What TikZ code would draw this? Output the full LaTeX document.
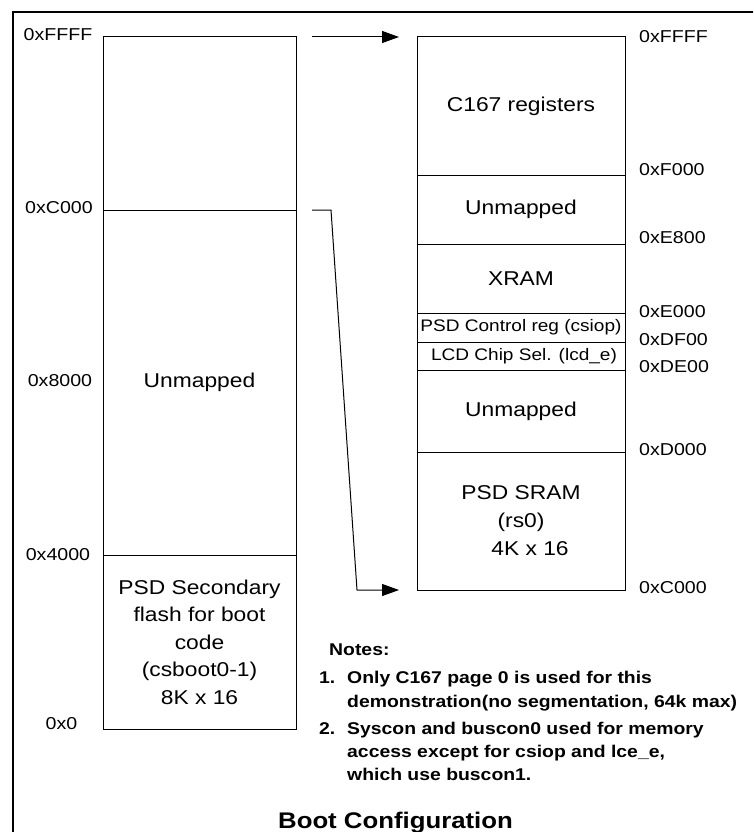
\documentclass[tikz,border=0pt]{standalone}
\usepackage{fontspec}
\setmainfont[FakeStretch=1.14]{Liberation Sans}
\usetikzlibrary{arrows.meta}
\begin{document}
\begin{tikzpicture}[x=1pt,y=-1pt,
  membox/.style={draw, line width=1pt, inner sep=0pt, outer sep=0pt, anchor=north west,
    align=center, font=\fontsize{20}{27.5}\selectfont},
  leftmem/.style={membox, minimum width=193pt},
  rightmem/.style={membox, minimum width=208pt},
  smalltext/.style={font=\fontsize{16.7}{20}\selectfont},
  addr/.style={inner sep=0pt, font=\fontsize{17.2}{20}\selectfont},
  raddr/.style={addr, anchor=west},
  note/.style={inner sep=0pt, anchor=base west, font=\bfseries\fontsize{17}{20}\selectfont},
  conn/.style={line width=1pt, -{Triangle[length=17pt,width=12pt]}},
  frame/.style={line width=2.2pt}]
\useasboundingbox (0,0) rectangle (753,832);
\clip (0,0) rectangle (753,832);
% outer frame (cut off at right and bottom)
\draw[frame] (13,850) -- (13,12) -- (770,12);

% left memory map
\node[leftmem, minimum height=173pt] (L1) at (103,37) {};
\node[leftmem, minimum height=345pt] (L2) at (103,210) {Unmapped};
\node[leftmem, minimum height=174pt] (L3) at (103,555) {PSD Secondary\\flash for boot\\code\\(csboot0-1)\\8K x 16};

% left addresses
\node[addr] (lFFFF) at (58,35) {0xFFFF};
\node[addr] (lC000) at (59,208) {0xC000};
\node[addr] (l8000) at (60,381) {0x8000};
\node[addr] (l4000) at (58,555) {0x4000};
\node[addr] (l0) at (61.5,724) {0x0};

% right memory map
\node[rightmem, minimum height=138pt] (R1) at (417,37) {C167 registers};
\node[rightmem, minimum height=69pt] (R2) at (417,175) {Unmapped};
\node[rightmem, minimum height=69pt] (R3) at (417,244) {XRAM};
\node[rightmem, minimum height=29pt, smalltext] (R4) at (417,313) {PSD Control reg (csiop)};
\node[rightmem, minimum height=28pt, smalltext] (R5) at (417,342) {\hspace*{6pt}LCD Chip Sel. (lcd\_e)};
\node[rightmem, minimum height=82pt] (R6) at (417,370) {Unmapped};
\node[rightmem, minimum height=138pt, font=\fontsize{20}{28}\selectfont] (R7) at (417,452) {PSD SRAM\\(rs0)\\\hspace*{18pt}4K x 16};

% right addresses
\node[raddr] (rFFFF) at (639,37) {0xFFFF};
\node[raddr] (rF000) at (639,169.5) {0xF000};
\node[raddr] (rE800) at (639,238) {0xE800};
\node[raddr] (rE000) at (639,312) {0xE000};
\node[raddr] (rDF00) at (639,340) {0xDF00};
\node[raddr] (rDE00) at (639,367) {0xDE00};
\node[raddr] (rD000) at (639,449.5) {0xD000};
\node[raddr] (rC000) at (639,587.5) {0xC000};

% connectors
\coordinate (a1s) at (312,37);
\coordinate (a1e) at (399,37);
\draw[conn] (a1s) -- (a1e);
\coordinate (a2s) at (312,210);
\coordinate (a2b) at (331,210);
\coordinate (a2c) at (357,590);
\coordinate (a2e) at (399,590);
\draw[conn] (a2s) -- (a2b) -- (a2c) -- (a2e);

% notes
\node[note] (notes) at (329,655) {Notes:};
\node[note] (n1num) at (319,683) {1.};
\node[note] (n1a) at (347,683) {Only C167 page 0 is used for this};
\node[note] (n1b) at (347,707) {demonstration(no segmentation, 64k max)};
\node[note] (n2num) at (319,734) {2.};
\node[note] (n2a) at (347,734) {Syscon and buscon0 used for memory};
\node[note] (n2b) at (347,757) {access except for csiop and lce\_e,};
\node[note] (n2c) at (347,780) {which use buscon1.};

% title
\node[inner sep=0pt, anchor=base, font=\bfseries\fontsize{22.6}{26}\selectfont] (title) at (395.5,828) {Boot Configuration};
\end{tikzpicture}
\end{document}
